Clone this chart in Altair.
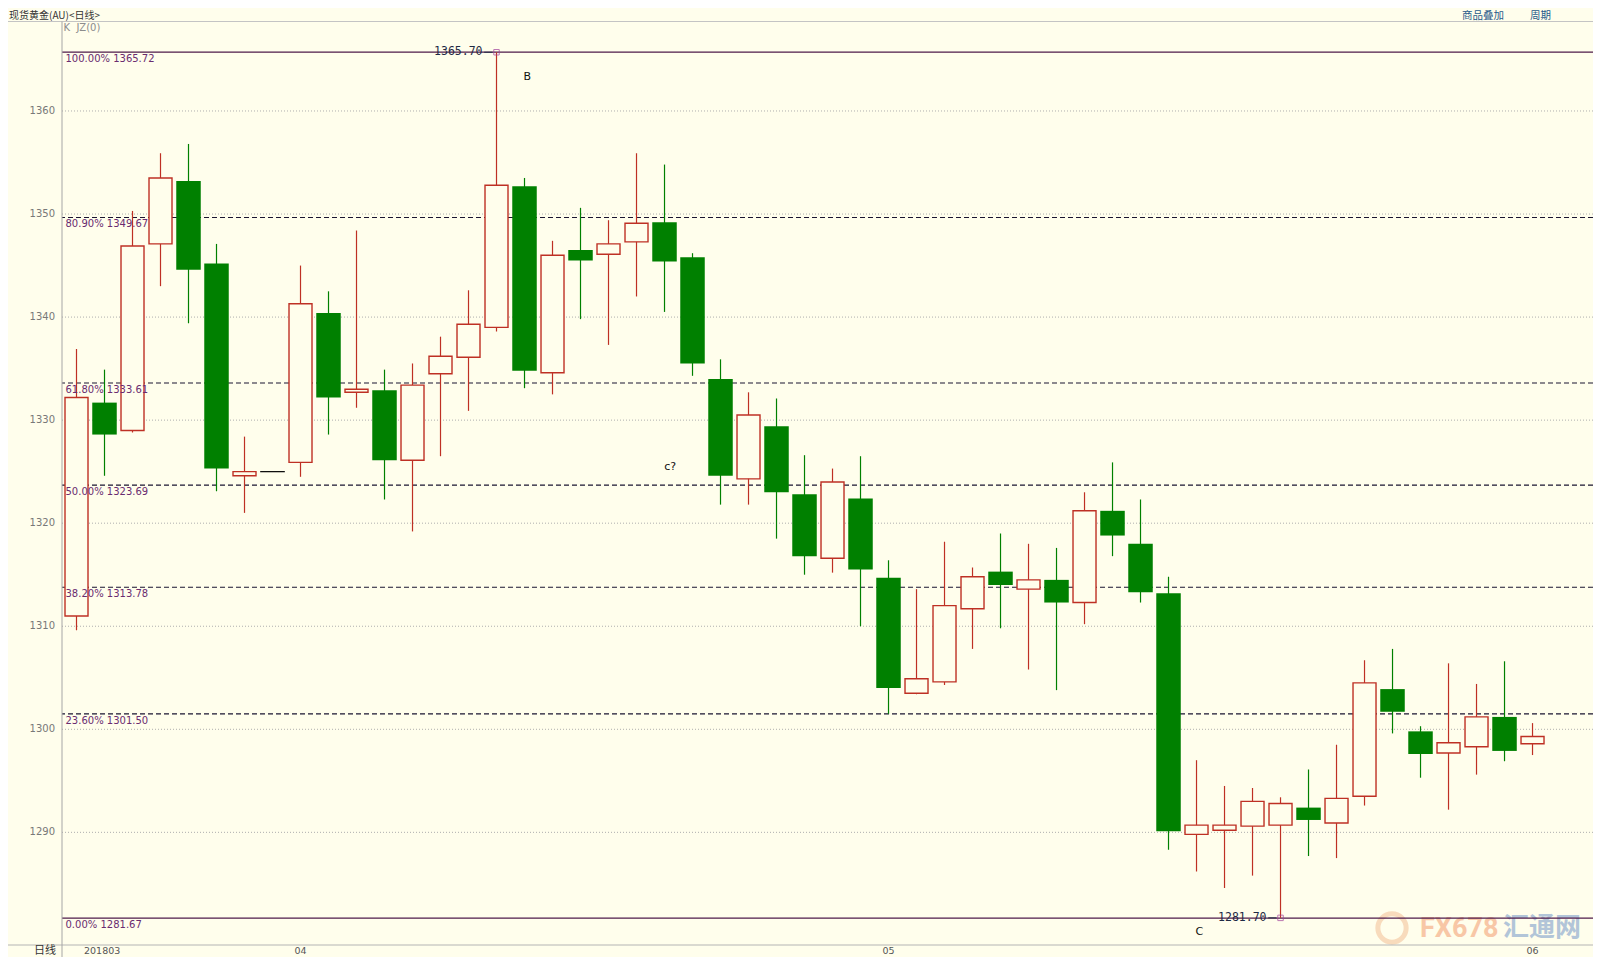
import altair as alt
import pandas as pd

# ---------------- data ----------------
opens = [1311.0, 1331.7, 1329.0, 1347.1, 1353.2, 1345.2, 1324.6, 1325.0, 1325.9, 1340.4,
         1332.7, 1332.9, 1326.1, 1334.5, 1336.1, 1339.0, 1352.7, 1334.6, 1346.5, 1346.1,
         1347.3, 1349.2, 1345.8, 1334.0, 1324.3, 1329.4, 1322.8, 1316.6, 1322.4, 1314.7,
         1303.5, 1304.6, 1311.7, 1315.3, 1313.6, 1314.5, 1312.3, 1321.2, 1318.0, 1313.2,
         1289.8, 1290.2, 1290.6, 1290.7, 1292.4, 1290.9, 1293.5, 1303.9, 1299.8, 1297.7,
         1298.3, 1301.2, 1298.6]
highs = [1336.9, 1334.9, 1350.3, 1355.9, 1356.8, 1347.1, 1328.4, 1325.0, 1345.0, 1342.5,
         1348.4, 1334.9, 1335.5, 1338.1, 1342.6, 1365.7, 1353.5, 1347.4, 1350.6, 1349.4,
         1355.9, 1354.8, 1346.2, 1335.9, 1332.7, 1332.1, 1326.6, 1325.3, 1326.5, 1316.4,
         1313.6, 1318.2, 1315.7, 1319.0, 1318.0, 1317.6, 1323.0, 1325.9, 1322.3, 1314.8,
         1297.0, 1294.5, 1294.3, 1293.4, 1296.1, 1298.5, 1306.7, 1307.8, 1300.3, 1306.4,
         1304.4, 1306.6, 1300.6]
lows = [1309.6, 1324.6, 1328.8, 1343.0, 1339.4, 1323.1, 1321.0, 1325.0, 1324.5, 1328.6,
        1331.2, 1322.3, 1319.2, 1326.5, 1330.9, 1338.6, 1333.1, 1332.5, 1339.8, 1337.3,
        1342.0, 1340.5, 1334.3, 1321.8, 1321.8, 1318.5, 1315.0, 1315.2, 1310.0, 1301.5,
        1303.4, 1304.3, 1307.8, 1309.8, 1305.8, 1303.8, 1310.2, 1316.8, 1312.3, 1288.3,
        1286.2, 1284.6, 1285.8, 1281.7, 1287.7, 1287.5, 1292.6, 1299.6, 1295.3, 1292.2,
        1295.6, 1296.9, 1297.5]
closes = [1332.2, 1328.6, 1346.9, 1353.5, 1344.6, 1325.3, 1325.0, 1325.0, 1341.3, 1332.2,
          1333.0, 1326.1, 1333.4, 1336.2, 1339.3, 1352.8, 1334.8, 1346.0, 1345.5, 1347.1,
          1349.1, 1345.4, 1335.5, 1324.6, 1330.5, 1323.0, 1316.8, 1324.0, 1315.5, 1304.0,
          1304.9, 1312.0, 1314.8, 1314.0, 1314.5, 1312.3, 1321.2, 1318.8, 1313.3, 1290.1,
          1290.7, 1290.7, 1293.0, 1292.8, 1291.2, 1293.3, 1304.5, 1301.7, 1297.6, 1298.7,
          1301.2, 1297.9, 1299.3]

month_start_idx = [0, 8, 29, 52]
month_labels = ["201803", "04", "05", "06"]

fib_pct = ["100.00%", "80.90%", "61.80%", "50.00%", "38.20%", "23.60%", "0.00%"]
fib_val = [1365.72, 1349.67, 1333.61, 1323.69, 1313.78, 1301.50, 1281.67]

extreme_idx = [15, 43]
extreme_val = [1365.70, 1281.70]

wave_labels = ["B", "c?", "C"]
wave_idx = [16.1, 21.2, 40.1]
wave_val = [1363.3, 1325.5, 1280.3]

y_ticks = [1290, 1300, 1310, 1320, 1330, 1340, 1350, 1360]

# ---------------- styling ----------------
BG = "#FFFEEC"
RED = "#BE3024"
GREEN = "#008000"
PURPLE = "#6A2C70"
CJK = "Noto Sans CJK SC"

W, H = 1531, 929
LABEL_ROW = 934

df = pd.DataFrame({"i": list(range(len(opens))), "open": opens, "high": highs,
                   "low": lows, "close": closes})
df["dir"] = ["up" if c > o else ("down" if c < o else "flat") for o, c in zip(opens, closes)]

fibdf = pd.DataFrame({"pct": fib_pct, "val": fib_val})
fibdf["label"] = [f"{p} {v:.2f}" for p, v in zip(fib_pct, fib_val)]
fibdf["solid"] = [p in ("100.00%", "0.00%") for p in fib_pct]

exdf = pd.DataFrame({"i": extreme_idx, "val": extreme_val})
exdf["txt"] = [f"{v:.2f}" for v in extreme_val]

wavedf = pd.DataFrame({"i": wave_idx, "val": wave_val, "txt": wave_labels})
mdf = pd.DataFrame({"idx": month_start_idx, "lab": month_labels})
gdf = pd.DataFrame({"v": y_ticks})
gdf["txt"] = [str(v) for v in y_ticks]
one = pd.DataFrame({"a": [0]})

xscale = alt.Scale(domain=[-0.518, 54.16], nice=False, zero=False, padding=0)
yscale = alt.Scale(domain=[1278.97, 1369.12], nice=False, zero=False, padding=0)


def X(f):
    return alt.X(f, type="quantitative", scale=xscale, axis=None)


def Y(f):
    return alt.Y(f, type="quantitative", scale=yscale, axis=None)


base = alt.Chart(df)

grid = alt.Chart(gdf).mark_rule(color="#AEAEAE", strokeWidth=1, strokeDash=[1, 2]).encode(y=Y("v"))
ylabels = alt.Chart(gdf).mark_text(align="right", baseline="middle", font="DejaVu Sans",
                                   fontSize=10, color="#787878").encode(
    x=alt.value(-7), y=Y("v"), text="txt:N")

fib_solid = alt.Chart(fibdf).transform_filter("datum.solid").mark_rule(
    color="#4E1A4A", strokeWidth=1.3).encode(y=Y("val"))
fib_dash = alt.Chart(fibdf).transform_filter("!datum.solid").mark_rule(
    color="#1A1430", strokeWidth=1.1, strokeDash=[5, 3]).encode(y=Y("val"))
fib_text = alt.Chart(fibdf).mark_text(align="left", baseline="middle", dy=7, font="DejaVu Sans",
                                      fontSize=10, color=PURPLE).encode(
    x=alt.value(3.5), y=Y("val"), text="label:N")

wicks = base.transform_filter("datum.dir != 'flat'").mark_rule(strokeWidth=1.2).encode(
    x=X("i"), y=Y("low"), y2="high",
    color=alt.Color("dir:N", scale=alt.Scale(domain=["up", "down"], range=[RED, GREEN]), legend=None))
up_bodies = base.transform_filter("datum.dir == 'up'").mark_bar(
    size=23, fill=BG, stroke=RED, strokeWidth=1.4).encode(x=X("i"), y=Y("open"), y2="close")
down_bodies = base.transform_filter("datum.dir == 'down'").mark_bar(
    size=24.5, color=GREEN).encode(x=X("i"), y=Y("open"), y2="close")
flat = base.transform_filter("datum.dir == 'flat'").transform_calculate(
    xl="datum.i - 0.44", xr="datum.i + 0.44").mark_rule(color="black", strokeWidth=1.2).encode(
    x=X("xl"), x2="xr", y=Y("close"))

ex_text = alt.Chart(exdf).mark_text(align="right", baseline="middle", dx=-14,
                                    font="DejaVu Sans Mono", fontSize=11.5, color="#1F2A44").encode(
    x=X("i"), y=Y("val"), text="txt:N")
ex_dash = alt.Chart(exdf).transform_calculate(xa="datum.i - 0.44", xb="datum.i - 0.14").mark_rule(
    color="#1F2A44", strokeWidth=1).encode(x=X("xa"), x2="xb", y=Y("val"))
ex_mark = alt.Chart(exdf).mark_point(shape="square", size=30, filled=False, color="#A0409A",
                                     strokeWidth=1).encode(x=X("i"), y=Y("val"))

waves = alt.Chart(wavedf).mark_text(align="center", baseline="middle", font="DejaVu Sans",
                                    fontSize=11, color="#111111").encode(
    x=X("i"), y=Y("val"), text="txt:N")

m_first = alt.Chart(mdf).transform_filter("datum.idx == 0").mark_text(
    align="left", baseline="middle", dx=7.5, font="DejaVu Sans", fontSize=9.5, color="#555555").encode(
    x=X("idx"), y=alt.value(LABEL_ROW), text="lab:N")
m_rest = alt.Chart(mdf).transform_filter("datum.idx != 0").mark_text(
    align="center", baseline="middle", font="DejaVu Sans", fontSize=9.5, color="#555555").encode(
    x=X("idx"), y=alt.value(LABEL_ROW), text="lab:N")

top_line = alt.Chart(one).mark_rule(color="#C4C4C4", strokeWidth=1).encode(
    x=alt.value(-54), x2=alt.value(W), y=alt.value(4.5))
bottom_line = alt.Chart(one).mark_rule(color="#B4B4B4", strokeWidth=1).encode(
    x=alt.value(-54), x2=alt.value(W), y=alt.value(H - 1))
axis_line = alt.Chart(one).mark_rule(color="#A6A6A6", strokeWidth=1).encode(
    x=alt.value(0), y=alt.value(4.5), y2=alt.value(945))

title = alt.Chart(one).mark_text(align="left", baseline="top", font=CJK, fontSize=10,
                                 color="#333333").encode(
    x=alt.value(-53), y=alt.value(-6), text=alt.value("现货黄金(AU)<日线>"))
link1 = alt.Chart(one).mark_text(align="left", baseline="top", font=CJK, fontSize=10.5,
                                 color="#1F5A8A").encode(
    x=alt.value(1400), y=alt.value(-6), text=alt.value("商品叠加"))
link2 = alt.Chart(one).mark_text(align="left", baseline="top", font=CJK, fontSize=10.5,
                                 color="#1F5A8A").encode(
    x=alt.value(1468), y=alt.value(-6), text=alt.value("周期"))
kjz = alt.Chart(one).mark_text(align="left", baseline="middle", font="DejaVu Sans", fontSize=10,
                               color="#8C8C8C").encode(
    x=alt.value(1.5), y=alt.value(11), text=alt.value("K\u00a0\u00a0JZ(0)"))
rixian = alt.Chart(one).mark_text(align="center", baseline="middle", font=CJK, fontSize=11,
                                  color="#333333").encode(
    x=alt.value(-17), y=alt.value(LABEL_ROW), text=alt.value("日线"))

wm_logo = alt.Chart(one).mark_point(shape="circle", size=800, filled=False, strokeWidth=5,
                                    color="#F6CDA8").encode(x=alt.value(1330), y=alt.value(911))
wm_fx = alt.Chart(one).mark_text(align="left", baseline="middle", font="Roboto",
                                 fontWeight="bold", fontSize=27, color="#F8C7A6").encode(
    x=alt.value(1358), y=alt.value(912), text=alt.value("FX678"))
wm_cn = alt.Chart(one).mark_text(align="left", baseline="middle", font=CJK, fontWeight="bold",
                                 fontSize=26, color="#B2C5D8").encode(
    x=alt.value(1441), y=alt.value(911), text=alt.value("汇通网"))

chart = alt.layer(
    grid, wm_logo, wm_fx, wm_cn, fib_solid, fib_dash, wicks, up_bodies, down_bodies, flat,
    fib_text, ex_dash, ex_text, ex_mark, waves, ylabels, m_first, m_rest,
    top_line, bottom_line, axis_line, title, link1, link2, kjz, rixian
).properties(
    width=W, height=H,
    padding={"left": 54, "top": 9, "right": 0, "bottom": 11},
    autosize=alt.AutoSizeParams(type="none"),
    background=BG,
).configure_view(stroke=None)

chart.save("out.html", embed_options={"renderer": "svg", "actions": False})
